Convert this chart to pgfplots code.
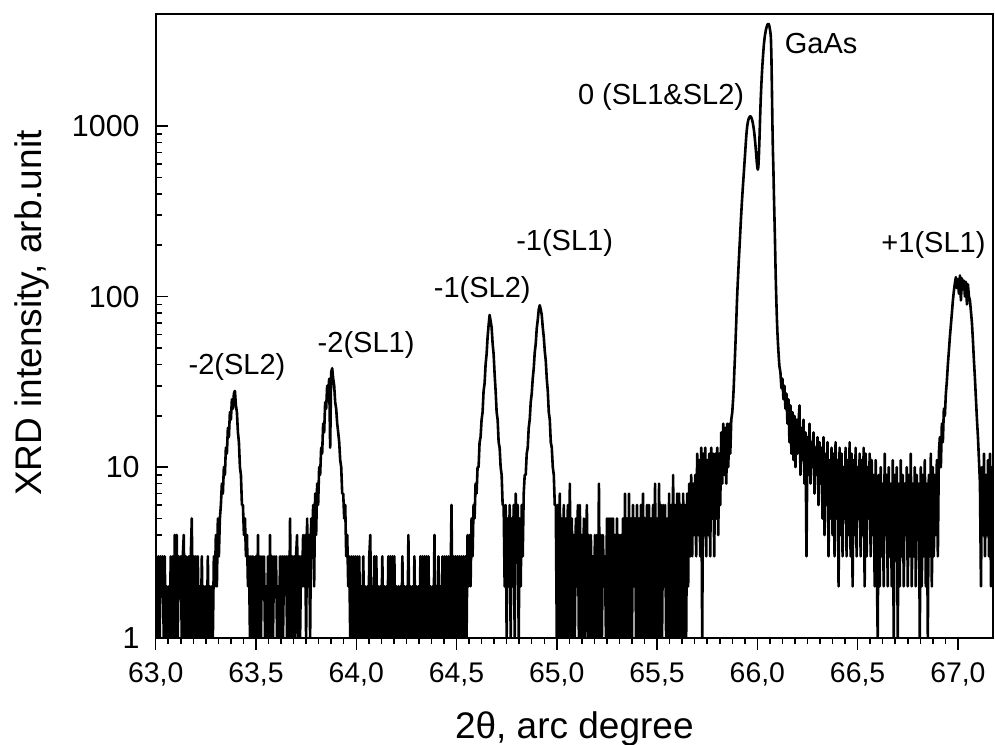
\documentclass[border=0pt]{standalone}
\usepackage{fontspec}
\setmainfont{Liberation Sans}
\usepackage{pgfplots}
\pgfplotsset{compat=1.18}
\begin{document}
\begin{tikzpicture}
\path[use as bounding box] (-77.85pt,-53.15pt) rectangle (419.65pt,318.85pt);
\begin{axis}[
  at={(0pt,0pt)}, anchor=south west,
  scale only axis, width=418.65pt, height=311.6pt,
  ymode=log, xmin=63, xmax=67.175, ymin=1, ymax=4508,
  xtick={63,63.5,64,64.5,65,65.5,66,66.5,67},
  xticklabels={{63,0},{63,5},{64,0},{64,5},{65,0},{65,5},{66,0},{66,5},{67,0}},
  minor x tick num=7,
  ytick={1,10,100,1000},
  yticklabels={1,10,100,1000},
  xtick pos=bottom, ytick pos=left,
  xtick align=outside, ytick align=inside,
  major tick length=6pt, minor tick length=3.4pt,
  axis line style={line width=1pt},
  every tick/.style={black, line width=0.75pt},
  xticklabel style={font=\fontsize{14.2}{17}\selectfont, anchor=base, inner sep=0pt, yshift=-16.6pt},
  yticklabel style={font=\fontsize{15.2}{18}\selectfont, anchor=east, inner sep=0pt, xshift=-7.85pt},
  xlabel={2θ, arc degree},
  xlabel style={font=\fontsize{18.5}{22}\selectfont, at={([yshift=-50.4pt]axis description cs:0.5,0)}, anchor=base, inner sep=0pt},
  ylabel={XRD intensity, arb.unit},
  ylabel style={font=\fontsize{18.5}{22}\selectfont, at={([xshift=-56.85pt]axis description cs:0,0.521)}, anchor=base, inner sep=0pt},
  clip=true,
]
\addplot[black, line width=1.3pt, line join=round, mark=none] coordinates {
(63.000,1)(63.005,3)(63.010,1)(63.015,3)(63.020,1)(63.025,3)(63.030,2)(63.035,3)(63.040,1)(63.045,3)
(63.050,1)(63.055,2)(63.060,1)(63.065,2)(63.070,1)(63.075,3)(63.080,1)(63.085,3)(63.090,1)(63.095,4)
(63.100,1)(63.105,4)(63.110,1)(63.115,3)(63.120,2)(63.125,3)(63.130,1)(63.135,3)(63.140,4)(63.145,1)
(63.150,3)(63.155,1)(63.160,2)(63.165,3)(63.170,1)(63.175,3)(63.180,5)(63.185,1)(63.190,3)(63.195,1)
(63.200,3)(63.205,1)(63.210,3)(63.215,1)(63.220,2)(63.225,1)(63.230,3)(63.235,1)(63.240,2)(63.245,1)
(63.250,2)(63.255,1)(63.260,3)(63.265,1)(63.270,2)(63.275,1)(63.280,2)(63.285,1)(63.290,3)
(63.295,2)(63.300,4)(63.305,2)(63.310,5)(63.315,3)(63.320,5)(63.325,6)(63.330,8)(63.335,7)(63.340,10)
(63.345,9)(63.350,13)(63.355,12)(63.360,17)(63.365,15)(63.370,21)(63.375,19)(63.380,25)(63.385,22)(63.390,27)
(63.395,28)(63.400,23)(63.405,21)(63.410,16)(63.415,14)(63.420,10)(63.425,9)(63.430,6)(63.435,6)(63.440,4)
(63.445,5)(63.450,3)(63.455,4)(63.460,2)(63.465,3)(63.470,1)(63.475,3)(63.480,1)(63.485,3)(63.490,1)
(63.495,1)(63.500,3)(63.505,1)(63.510,4)(63.515,1)(63.520,3)(63.525,1)(63.530,3)(63.535,2)(63.540,3)
(63.545,1)(63.550,2)(63.555,1)(63.560,3)(63.565,1)(63.570,4)(63.575,1)(63.580,3)(63.585,1)(63.590,3)
(63.595,2)(63.600,3)(63.605,1)(63.610,2)(63.615,1)(63.620,3)(63.625,1)(63.630,3)(63.635,1)(63.640,3)
(63.645,2)(63.650,3)(63.655,1)(63.660,3)(63.665,1)(63.670,5)(63.675,1)(63.680,3)(63.685,1)(63.690,3)
(63.695,1)(63.700,3)(63.705,4)(63.710,1)(63.715,3)(63.720,1)(63.725,3)(63.730,2)(63.735,4)(63.740,2)
(63.745,4)
(63.750,1)(63.755,5)(63.760,2)(63.765,4)(63.770,1)(63.775,5)(63.780,3)(63.785,6)(63.790,2)(63.795,7)
(63.800,4)(63.805,8)(63.810,6)(63.815,10)(63.820,9)(63.825,13)(63.830,12)(63.835,18)(63.840,16)(63.845,24)
(63.850,22)(63.855,30)(63.860,27)(63.865,33)(63.870,13)(63.875,36)(63.880,38)(63.885,33)(63.890,30)(63.895,24)
(63.900,22)(63.905,18)(63.910,16)(63.915,14)(63.920,11)(63.925,10)(63.930,7)(63.935,7)(63.940,5)(63.945,6)
(63.950,3)(63.955,4)(63.960,2)(63.965,3)(63.970,1)(63.975,3)(63.980,1)
(63.985,3)(63.990,1)(63.995,3)(64.000,1)(64.005,3)(64.010,1)(64.015,3)(64.020,1)(64.025,2)(64.030,1)
(64.035,3)(64.040,1)(64.045,2)(64.050,1)(64.055,2)(64.060,1)(64.065,3)(64.070,4)(64.075,1)(64.080,2)
(64.085,1)(64.090,3)(64.095,1)(64.100,3)(64.105,1)(64.110,2)(64.115,1)(64.120,2)(64.125,1)(64.130,3)
(64.135,1)(64.140,2)(64.145,1)(64.150,2)(64.155,1)(64.160,3)(64.165,1)(64.170,3)(64.175,1)(64.180,3)
(64.185,1)(64.190,3)(64.195,1)(64.200,2)(64.205,1)(64.210,2)(64.215,1)(64.220,2)(64.225,1)(64.230,3)
(64.235,1)(64.240,2)(64.245,1)(64.250,2)(64.255,1)(64.260,4)(64.265,1)(64.270,2)(64.275,1)(64.280,2)
(64.285,1)(64.290,3)(64.295,1)(64.300,2)(64.305,1)(64.310,2)(64.315,1)(64.320,3)(64.325,1)(64.330,3)
(64.335,1)(64.340,3)(64.345,1)(64.350,3)(64.355,1)(64.360,3)(64.365,1)(64.370,2)(64.375,1)(64.380,2)
(64.385,1)(64.390,4)(64.395,1)(64.400,2)(64.405,1)(64.410,3)(64.415,1)(64.420,2)(64.425,1)(64.430,3)
(64.435,1)(64.440,3)(64.445,1)(64.450,3)(64.455,1)(64.460,3)(64.465,1)(64.470,2)(64.475,6)(64.480,1)
(64.485,3)(64.490,1)(64.495,3)(64.500,1)(64.505,3)(64.510,1)(64.515,3)(64.520,1)(64.525,3)(64.530,1)
(64.535,3)(64.540,1)(64.545,3)
(64.550,1)(64.555,4)(64.560,2)(64.565,4)(64.570,2)(64.575,5)(64.580,3)(64.585,6)(64.590,5)(64.595,8)
(64.600,7)(64.605,10)(64.610,10)(64.615,14)(64.620,15)(64.625,19)(64.630,21)(64.635,28)(64.640,31)(64.645,40)
(64.650,46)(64.655,58)(64.660,68)(64.665,78)(64.670,72)(64.675,66)(64.680,53)(64.685,46)(64.690,35)(64.695,28)
(64.700,21)(64.705,19)(64.710,14)(64.715,13)(64.720,10)(64.725,9)(64.730,6)
(64.735,6)(64.740,2)(64.745,6)(64.750,1)(64.755,5)(64.760,2)(64.765,6)(64.770,1)(64.775,5)(64.780,2)
(64.785,6)(64.790,1)(64.795,7)(64.800,3)(64.805,6)(64.810,1)(64.815,5)(64.820,2)(64.825,6)(64.830,3)(64.835,7)
(64.840,9)(64.845,9)(64.850,12)(64.855,13)(64.860,17)(64.865,19)(64.870,24)(64.875,27)(64.880,33)(64.885,38)
(64.890,47)(64.895,53)(64.900,65)(64.905,73)(64.910,84)(64.915,89)(64.920,84)(64.925,78)(64.930,66)(64.935,58)
(64.940,48)(64.945,42)(64.950,33)(64.955,28)(64.960,21)(64.965,19)(64.970,14)(64.975,13)(64.980,10)(64.985,9)(64.990,6)
(64.995,6)(65.000,1)(65.005,6)(65.010,1)(65.015,7)(65.020,1)(65.025,5)(65.030,1)(65.035,6)(65.040,1)
(65.045,5)(65.050,1)(65.055,6)(65.060,1)(65.065,8)(65.070,1)(65.075,5)(65.080,1)(65.085,4)(65.090,1)
(65.095,5)(65.100,2)(65.105,6)(65.110,1)(65.115,6)(65.120,1)(65.125,4)(65.130,1)(65.135,5)(65.140,1)
(65.145,3)(65.150,6)(65.155,1)(65.160,4)(65.165,1)(65.170,4)(65.175,1)(65.180,3)(65.185,1)(65.190,4)
(65.195,1)(65.200,4)(65.205,1)(65.210,8)(65.215,1)(65.220,4)(65.225,1)(65.230,4)(65.235,2)(65.240,3)
(65.245,1)(65.250,5)(65.255,1)(65.260,5)(65.265,1)(65.270,5)(65.275,1)(65.280,5)(65.285,1)(65.290,4)
(65.295,1)(65.300,5)(65.305,1)(65.310,4)(65.315,1)(65.320,4)(65.325,1)(65.330,5)(65.335,1)(65.340,7)
(65.345,1)(65.350,5)(65.355,1)(65.360,7)(65.365,1)(65.370,5)(65.375,1)(65.380,6)(65.385,2)(65.390,5)
(65.395,1)(65.400,6)(65.405,1)(65.410,5)(65.415,1)(65.420,6)(65.425,1)(65.430,7)(65.435,1)(65.440,5)
(65.445,1)(65.450,6)(65.455,1)(65.460,6)(65.465,1)(65.470,5)(65.475,1)(65.480,6)(65.485,1)(65.490,8)
(65.495,1)(65.500,5)(65.505,1)(65.510,8)(65.515,1)(65.520,6)(65.525,1)(65.530,6)(65.535,2)(65.540,6)
(65.545,1)(65.550,5)(65.555,1)(65.560,7)(65.565,1)(65.570,6)(65.575,1)(65.580,9)(65.585,1)(65.590,6)
(65.595,1)(65.600,7)(65.605,1)(65.610,7)(65.615,1)(65.620,6)(65.625,1)(65.630,7)(65.635,1)(65.640,6)
(65.645,1)(65.650,7)(65.655,2)(65.660,8)(65.665,3)(65.670,9)(65.675,3)(65.680,8)(65.685,4)(65.690,9)
(65.695,3)(65.700,12)(65.705,4)(65.710,11)(65.715,3)(65.720,13)(65.725,1)(65.730,12)(65.735,4)(65.740,13)
(65.745,3)(65.750,11)(65.755,4)(65.760,12)(65.765,3)(65.770,13)(65.775,5)(65.780,12)(65.785,3)(65.790,12)
(65.795,5)(65.800,13)(65.805,4)(65.810,12)(65.815,6)(65.820,16)(65.825,8)(65.830,18)(65.835,9)(65.840,17)
(65.845,8)(65.850,18)(65.855,10)(65.860,18)(65.865,12)(65.870,19)(65.875,21)
(65.8800,26)(65.8825,30)(65.8850,36)(65.8875,42)(65.8900,50)(65.8925,60)(65.8950,72)(65.8975,88)
(65.9000,105)(65.9025,122)(65.9050,140)(65.9075,162)(65.9100,185)(65.9125,210)(65.9150,240)(65.9175,275)
(65.9200,310)(65.9225,350)(65.9250,390)(65.9275,435)(65.9300,480)(65.9325,530)(65.9350,590)(65.9375,650)
(65.9400,720)(65.9425,800)(65.9450,880)(65.9475,950)(65.9500,1010)(65.9525,1050)(65.9550,1085)(65.9575,1110)
(65.9600,1125)(65.9625,1135)(65.9650,1140)(65.9675,1135)(65.9700,1120)(65.9725,1100)(65.9750,1075)(65.9775,1040)
(65.9800,1000)(65.9825,955)(65.9850,905)(65.9875,845)(65.9900,785)(65.9925,725)(65.9950,665)(65.9975,610)
(66.0000,570)(66.0025,555)(66.0050,575)(66.0075,660)(66.0100,800)(66.0125,1000)(66.0150,1250)(66.0175,1500)
(66.0200,1750)(66.0225,2000)(66.0250,2250)(66.0275,2500)(66.0300,2750)(66.0325,3000)(66.0350,3200)(66.0375,3380)
(66.0400,3520)(66.0425,3650)(66.0450,3760)(66.0475,3850)(66.0500,3920)(66.0525,3960)(66.0550,3970)(66.0575,3940)
(66.0600,3850)(66.0625,3700)(66.0650,3550)(66.0675,3300)(66.0700,2600)(66.0725,1700)(66.0750,1050)(66.0775,720)
(66.0800,560)(66.0825,400)(66.0850,300)(66.0875,225)(66.0900,160)(66.0925,118)(66.0950,92)(66.0975,74)
(66.1000,62)(66.1025,54)(66.1050,48)(66.1075,43)(66.1100,39)
(66.115,36)(66.120,29)(66.125,33)(66.130,25)(66.135,30)(66.140,22)(66.145,27)(66.150,18)(66.155,25)(66.160,14)
(66.165,23)(66.170,12)(66.175,21)(66.180,11)(66.185,20)(66.190,10)(66.195,19)(66.200,12)(66.205,18)(66.210,23)
(66.215,9)(66.220,17)(66.225,11)(66.230,19)(66.235,8)(66.240,16)(66.245,3)(66.250,15)(66.255,9)(66.260,18)
(66.265,8)(66.270,14)(66.275,10)(66.280,16)(66.285,7)(66.290,13)(66.295,9)(66.300,15)(66.305,6)(66.310,14)
(66.315,8)(66.320,13)(66.325,5)(66.330,15)(66.335,4)(66.340,12)(66.345,6)(66.350,14)(66.355,3)(66.360,11)
(66.365,5)(66.370,13)(66.375,4)(66.380,12)(66.385,3)(66.390,14)(66.395,5)(66.400,11)(66.405,2)(66.410,13)
(66.415,4)(66.420,12)(66.425,3)(66.430,10)(66.435,5)(66.440,13)(66.445,3)(66.450,11)(66.455,4)(66.460,14)
(66.465,3)(66.470,12)(66.475,2)(66.480,11)(66.485,4)(66.490,13)(66.495,3)(66.500,10)(66.505,5)(66.510,12)
(66.515,3)(66.520,11)(66.525,4)(66.530,13)(66.535,2)(66.540,12)(66.545,3)(66.550,10)(66.555,5)(66.560,12)
(66.565,3)(66.570,11)(66.575,4)(66.580,9)(66.585,2)(66.590,11)(66.595,3)(66.600,1)(66.605,9)(66.610,2)
(66.615,10)(66.620,3)(66.625,8)(66.630,2)(66.635,12)(66.640,4)(66.645,9)(66.650,2)(66.655,10)(66.660,3)
(66.665,8)(66.670,2)(66.675,11)(66.680,1)(66.685,9)(66.690,3)(66.695,10)(66.700,1)(66.705,8)(66.710,2)
(66.715,11)(66.720,3)(66.725,9)(66.730,2)(66.735,8)(66.740,4)(66.745,10)(66.750,2)(66.755,9)(66.760,3)
(66.765,12)(66.770,2)(66.775,8)(66.780,3)(66.785,10)(66.790,2)(66.795,9)(66.800,4)(66.805,8)(66.810,1)
(66.815,10)(66.820,2)(66.825,9)(66.830,3)(66.835,11)(66.840,2)(66.845,8)(66.850,1)(66.855,9)(66.860,3)
(66.865,12)(66.870,2)(66.875,10)(66.880,3)(66.885,9)(66.890,4)(66.895,11)(66.900,3)(66.905,12)
(66.910,15)(66.915,10)(66.920,18)(66.925,14)(66.930,22)(66.935,20)(66.940,27)(66.945,32)(66.950,40)(66.955,48)
(66.960,58)(66.965,68)(66.970,80)(66.975,95)(66.980,108)(66.985,120)(66.990,130)(66.995,112)(67.000,126)(67.005,104)
(67.010,133)(67.015,95)(67.020,128)(67.025,110)(67.030,124)(67.035,100)(67.040,122)(67.045,90)(67.050,118)(67.055,100)
(67.060,95)(67.065,82)(67.070,70)(67.075,55)(67.080,42)(67.085,33)(67.090,25)(67.095,19)(67.100,15)(67.105,11)
(67.110,8)(67.115,2)(67.120,10)(67.125,4)(67.130,12)(67.135,3)(67.140,9)(67.145,4)(67.150,11)(67.155,3)
(67.160,12)(67.165,2)(67.170,10)(67.175,4)
};
\node[font=\fontsize{14.5}{17}\selectfont] at (axis cs:63.4055,38.6) {-2(SL2)};
\node[font=\fontsize{14.5}{17}\selectfont] at (axis cs:64.049,52) {-2(SL1)};
\node[font=\fontsize{14.5}{17}\selectfont] at (axis cs:64.628,109) {-1(SL2)};
\node[font=\fontsize{14.5}{17}\selectfont] at (axis cs:65.039,206) {-1(SL1)};
\node[font=\fontsize{14.5}{17}\selectfont] at (axis cs:65.520,1477) {0 (SL1\&SL2)};
\node[font=\fontsize{14.5}{17}\selectfont] at (axis cs:66.318,3062) {GaAs};
\node[font=\fontsize{14.5}{17}\selectfont] at (axis cs:66.878,200) {+1(SL1)};
\end{axis}
\end{tikzpicture}
\end{document}
